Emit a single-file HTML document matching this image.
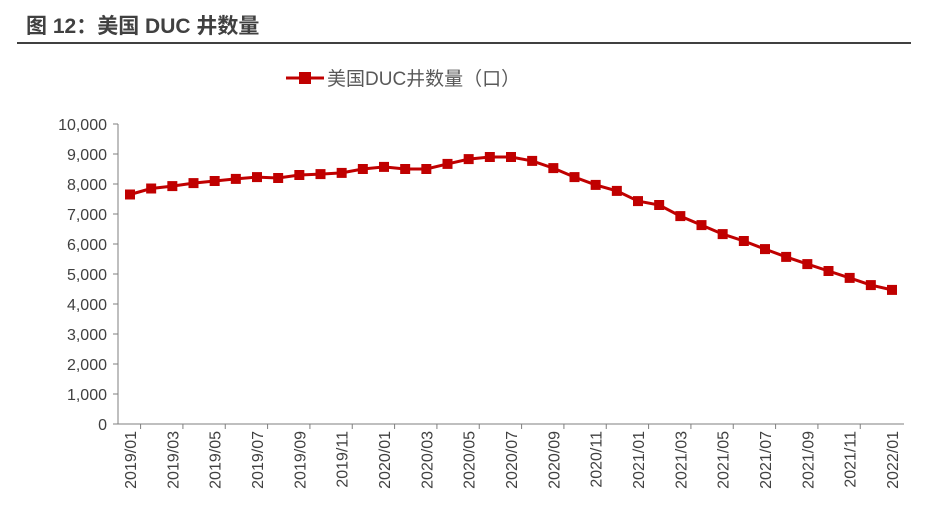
<!DOCTYPE html>
<html><head><meta charset="utf-8"><style>
body{margin:0;background:#fff;width:931px;height:514px;overflow:hidden;font-family:"Liberation Sans","Noto Sans CJK SC",sans-serif;}
</style></head><body>
<svg width="931" height="514" xmlns="http://www.w3.org/2000/svg">
<text x="26" y="33" font-size="21" font-weight="bold" fill="#404040" font-family="Liberation Sans,Noto Sans CJK SC,sans-serif">图 12：美国 DUC 井数量</text>
<line x1="17" y1="43" x2="911" y2="43" stroke="#404040" stroke-width="2"/>
<g>
<line x1="286" y1="78" x2="324" y2="78" stroke="#C00000" stroke-width="3"/>
<rect x="299" y="72" width="12" height="12" fill="#C00000"/>
<text x="327" y="85" font-size="19" fill="#595959" font-family="Liberation Sans,Noto Sans CJK SC,sans-serif">美国DUC井数量（口）</text>
</g>
<g id="axes"></g>
<g id="series"></g>
</svg>
<script>
const categories=[];
for(let y=2019;y<=2022;y++)for(let m=1;m<=12;m++){if(y===2022&&m>1)break;categories.push(y+'/'+String(m).padStart(2,'0'));}
const ducValues=[7650,7850,7930,8030,8100,8170,8230,8200,8300,8330,8370,8500,8570,8500,8500,8670,8830,8900,8900,8770,8530,8230,7970,7770,7430,7300,6930,6630,6330,6100,5830,5570,5330,5100,4870,4630,4470];
const yTicks=[0,1000,2000,3000,4000,5000,6000,7000,8000,9000,10000];
const NS='http://www.w3.org/2000/svg';
const x0=130,x1=892,yBase=424,yTop=124,yMax=10000;
function xs(i){return x0+(x1-x0)*i/(categories.length-1);}
function ys(v){return yBase-(yBase-yTop)*v/yMax;}
function mk(t,a,p){const e=document.createElementNS(NS,t);for(const k in a)e.setAttribute(k,a[k]);p.appendChild(e);return e;}
const ax=document.getElementById('axes'),se=document.getElementById('series');
const yAxis=mk('line',{x1:118,y1:yTop,x2:118,y2:yBase,stroke:'#7f7f7f'},ax);


const xAxis=mk('line',{x1:118,y1:yBase,x2:904,y2:yBase,stroke:'#7f7f7f'},ax);


yTicks.forEach(v=>{
 mk('line',{x1:113,y1:ys(v),x2:118,y2:ys(v),stroke:'#7f7f7f'},ax);
 const t=mk('text',{x:107,y:ys(v)+6,'text-anchor':'end','font-size':16,fill:'#404040'},ax);
 t.textContent=v.toLocaleString('en-US');
 
 
});
categories.forEach((c,i)=>{
 const tx=xs(i);
 if(i%2===0){
  const t=mk('text',{x:0,y:0,'text-anchor':'end','font-size':16,fill:'#404040',transform:`translate(${tx+6},${yBase+7}) rotate(-90)`},ax);
  t.textContent=c;
  
  
 }
});
for(let i=0;i<categories.length;i++){const b=x0+(x1-x0)*(i+0.5)/(categories.length-1);if(i<categories.length-1&&i%2===0)mk('line',{x1:b,y1:yBase,x2:b,y2:yBase+5,stroke:'#7f7f7f'},ax);}
const pts=ducValues.map((v,i)=>xs(i)+','+ys(v)).join(' ');
const line=mk('polyline',{points:pts,fill:'none',stroke:'#C00000','stroke-width':3},se);


ducValues.forEach((v,i)=>{
 const r=mk('rect',{x:xs(i)-5,y:ys(v)-5,width:10,height:10,fill:'#C00000'},se);
 
 
});
</script>
</body></html>
